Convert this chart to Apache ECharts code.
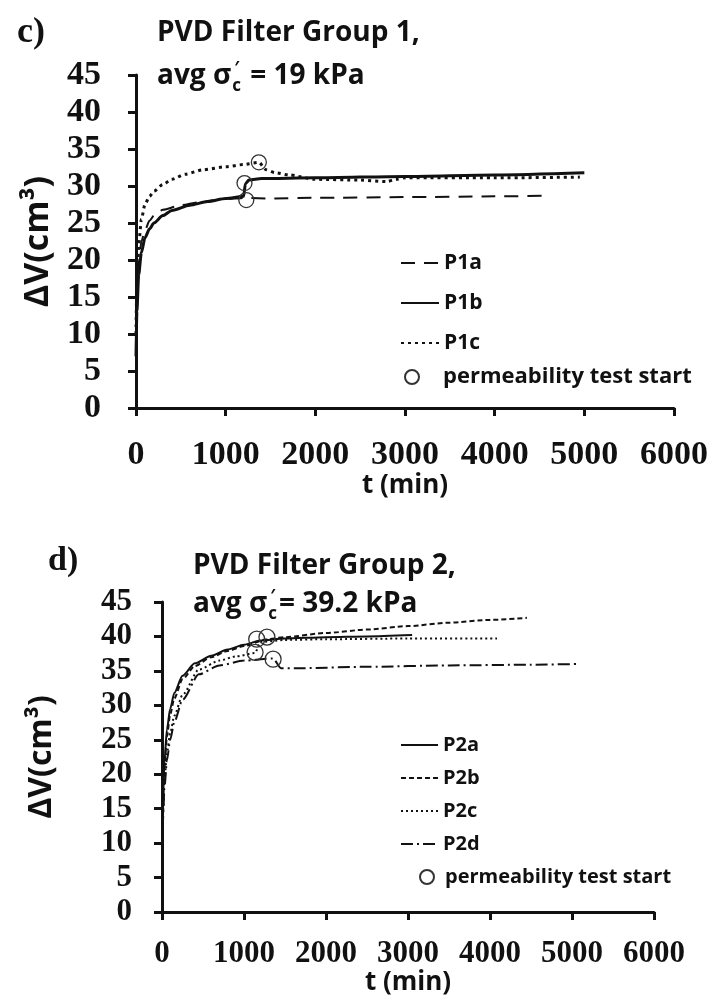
<!DOCTYPE html>
<html>
<head>
<meta charset="utf-8">
<script src="https://cdn.jsdelivr.net/npm/echarts@6.0.0/dist/echarts.min.js"></script>
<style>
  html, body { margin: 0; padding: 0; background: #fff; }
  #chart { width: 711px; height: 997px; }
</style>
</head>
<body>
<div id="chart"></div>
<script>
// ---- panel c) PVD Filter Group 1 ----
var p1aT = [0, 10, 30, 60, 100, 150, 200, 300, 500, 700, 900, 1100, 1230, 1500, 2000, 3000, 4000, 4620];
var p1aV = [9, 15, 19.5, 22.5, 24, 25.3, 26, 26.8, 27.4, 27.8, 28.1, 28.3, 28.4, 28.3, 28.4, 28.5, 28.6, 28.7];
var p1bT = [0, 10, 30, 60, 100, 150, 200, 300, 400, 600, 800, 1000, 1200, 1220, 1260, 1400, 2000, 3000, 4000, 5000];
var p1bV = [7, 13, 18, 21, 23, 24.2, 25, 26, 26.7, 27.4, 27.9, 28.3, 28.6, 30.3, 30.8, 31, 31.1, 31.3, 31.5, 31.8];
var p1cT = [0, 10, 30, 60, 100, 150, 200, 300, 400, 550, 750, 1000, 1200, 1370, 1450, 1550, 1700, 2000, 2500, 2800, 2900, 3000, 4000, 4950];
var p1cV = [10, 17, 22, 25.5, 27.5, 28.6, 29.3, 30.2, 30.9, 31.6, 32.2, 32.6, 32.9, 33.2, 32.2, 31.8, 31.5, 30.9, 30.8, 30.6, 30.9, 31.1, 31.1, 31.2];
var perm1T = [1230, 1210, 1370];
var perm1V = [28.1, 30.4, 33.2];

// ---- panel d) PVD Filter Group 2 ----
var p2aT = [0, 10, 30, 60, 100, 150, 250, 400, 600, 800, 1000, 1200, 1500, 2000, 2500, 3050];
var p2aV = [8, 16, 22, 26.5, 29.5, 31.8, 34.3, 36.1, 37.2, 38.1, 38.8, 39.4, 39.7, 39.9, 40.0, 40.2];
var p2bT = [0, 10, 30, 60, 100, 150, 250, 400, 600, 800, 1000, 1280, 1500, 2000, 2500, 3000, 3500, 4000, 4450];
var p2bV = [8, 15, 21, 25.5, 28.7, 31, 33.8, 35.7, 37, 37.9, 38.6, 39.6, 39.9, 40.5, 41, 41.5, 42, 42.4, 42.7];
var p2cT = [0, 10, 30, 60, 100, 150, 250, 450, 700, 900, 1135, 1200, 1500, 2000, 3000, 4085];
var p2cV = [9, 14, 19, 23, 26, 28.5, 31.5, 35.2, 36.5, 37.1, 37.6, 39.2, 39.5, 39.6, 39.7, 39.7];
var p2dT = [0, 10, 30, 60, 100, 150, 250, 450, 700, 1000, 1355, 1450, 1700, 2500, 3500, 4500, 5050];
var p2dV = [9, 13, 18, 22, 25, 27.6, 30.8, 34.5, 35.8, 36.5, 36.8, 35.4, 35.4, 35.6, 35.8, 35.9, 36];
var perm2T = [1155, 1280, 1135, 1355];
var perm2V = [39.6, 39.9, 37.7, 36.7];

var xTicks = [0, 6000, 1000];   // min, max, interval
var yTicks = [0, 45, 5];

var INK = '#111';
var SANS = '"Open Sans", "Liberation Sans", sans-serif';
var SERIF = '"Liberation Serif", "DejaVu Serif", serif';

function pts(t, v) {
  return t.map(function (x, i) { return [x, v[i]]; });
}

var mctx = document.createElement('canvas').getContext('2d');
function tw(text, size, family) {
  mctx.font = 'bold ' + size + 'px ' + family;
  return mctx.measureText(text).width;
}

function txt(x, y, s, size, family) {
  return {
    type: 'text', x: x, y: y,
    style: { text: s, fontSize: size, fontWeight: 'bold', fontFamily: family, fill: INK, textVerticalAlign: 'middle' }
  };
}

// "avg σc′ = ..." with subscript c and prime stacked
function sigmaLine(x, y, after, size) {
  var els = [];
  var head = 'avg σ';
  els.push(txt(x, y, head, size, SANS));
  var x1 = x + tw(head, size, SANS);
  var small = Math.round(size * 0.62);
  els.push(txt(x1 + 1, y + 10, 'c', small, SANS));
  els.push(txt(x1 + 3, y - 7, '′', small, SANS));
  els.push(txt(x1 + tw('c', small, SANS) + 3, y, after, size, SANS));
  return els;
}

function plain(v) { return String(v); }

function xAxisOf(grid, size, margin, gap) {
  return {
    type: 'value', gridIndex: grid, min: xTicks[0], max: xTicks[1], interval: xTicks[2],
    name: 't (min)', nameLocation: 'middle', nameGap: gap,
    nameTextStyle: { fontFamily: SANS, fontWeight: 'bold', fontSize: 26, color: INK },
    axisLine: { show: true, lineStyle: { color: INK, width: 3 } },
    axisTick: { show: true, inside: false, length: 8, lineStyle: { color: INK, width: 3 } },
    splitLine: { show: false },
    axisLabel: { fontFamily: SERIF, fontWeight: 'bold', fontSize: size, color: INK, margin: margin, formatter: plain }
  };
}

function yAxisOf(grid, size, margin, gap, nameSize) {
  return {
    type: 'value', gridIndex: grid, min: yTicks[0], max: yTicks[1], interval: yTicks[2],
    name: 'ΔV(cm³)', nameLocation: 'middle', nameRotate: 90, nameGap: gap,
    nameTextStyle: { fontFamily: SANS, fontWeight: 'bold', fontSize: nameSize, color: INK },
    axisLine: { show: true, lineStyle: { color: INK, width: 3 } },
    axisTick: { show: true, inside: false, length: 8, lineStyle: { color: INK, width: 3 } },
    splitLine: { show: false },
    axisLabel: { fontFamily: SERIF, fontWeight: 'bold', fontSize: size, color: INK, margin: margin, formatter: plain }
  };
}

function lineSeries(name, grid, data, type, width) {
  return {
    name: name, type: 'line', xAxisIndex: grid, yAxisIndex: grid,
    data: data, symbol: 'none', smooth: 0.25, smoothMonotone: 'x',
    lineStyle: { color: INK, width: width, type: type },
    itemStyle: { color: INK }
  };
}

function permSeries(grid, data, size) {
  return {
    name: 'permeability test start', type: 'scatter', xAxisIndex: grid, yAxisIndex: grid,
    data: data, symbol: 'circle', symbolSize: size, z: 5,
    itemStyle: { color: 'rgba(255,255,255,0)', borderColor: '#333', borderWidth: 1.3, opacity: 1 }
  };
}

function legendText(size, lh) {
  return { fontFamily: SANS, fontWeight: 'bold', fontSize: size, lineHeight: lh, color: INK };
}

var chart = echarts.init(document.getElementById('chart'));

var graphics = []
  .concat([txt(17, 33, 'c)', 36, SERIF), txt(157, 33, 'PVD Filter Group 1,', 28, SANS)])
  .concat(sigmaLine(157, 76, ' = 19 kPa', 28))
  .concat([txt(48, 561, 'd)', 34, SERIF), txt(193, 566, 'PVD Filter Group 2,', 28, SANS)])
  .concat(sigmaLine(193, 604, '= 39.2 kPa', 28));

var hideDot = { opacity: 0 };

chart.setOption({
  animation: false,
  backgroundColor: '#fff',
  grid: [
    { left: 136, top: 75, width: 540, height: 333 },
    { left: 162, top: 602, width: 492, height: 315 }
  ],
  xAxis: [xAxisOf(0, 34, 30, 55), xAxisOf(1, 31, 26, 46)],
  yAxis: [yAxisOf(0, 34, 35, 81, 34), yAxisOf(1, 31, 30, 104, 32)],
  legend: [
    { data: ['P1a', 'P1b', 'P1c'], orient: 'vertical', left: 400, top: 251, padding: 0,
      itemWidth: 38, itemHeight: 14, itemGap: 16, itemStyle: hideDot, textStyle: legendText(21, 24) },
    { data: ['permeability test start'], left: 404, top: 365, padding: 0,
      itemWidth: 52, itemHeight: 14, textStyle: legendText(22, 24) },
    { data: ['P2a', 'P2b', 'P2c', 'P2d'], orient: 'vertical', left: 400, top: 734, padding: 0,
      itemWidth: 37, itemHeight: 14, itemGap: 11, itemStyle: hideDot, textStyle: legendText(20, 22) },
    { data: ['permeability test start'], left: 419, top: 866, padding: 0,
      itemWidth: 26, itemHeight: 14, textStyle: legendText(20, 22) }
  ],
  series: [
    lineSeries('P1a', 0, pts(p1aT, p1aV), [14, 9], 2),
    lineSeries('P1b', 0, pts(p1bT, p1bV), 'solid', 3),
    lineSeries('P1c', 0, pts(p1cT, p1cV), [3, 4], 3),
    permSeries(0, pts(perm1T, perm1V), 15),
    lineSeries('P2a', 1, pts(p2aT, p2aV), 'solid', 2),
    lineSeries('P2b', 1, pts(p2bT, p2bV), [5, 3], 2),
    lineSeries('P2c', 1, pts(p2cT, p2cV), [2, 3], 2),
    lineSeries('P2d', 1, pts(p2dT, p2dV), [12, 4, 2, 4], 2),
    permSeries(1, pts(perm2T, perm2V), 16)
  ],
  graphic: graphics
});
</script>
</body>
</html>
